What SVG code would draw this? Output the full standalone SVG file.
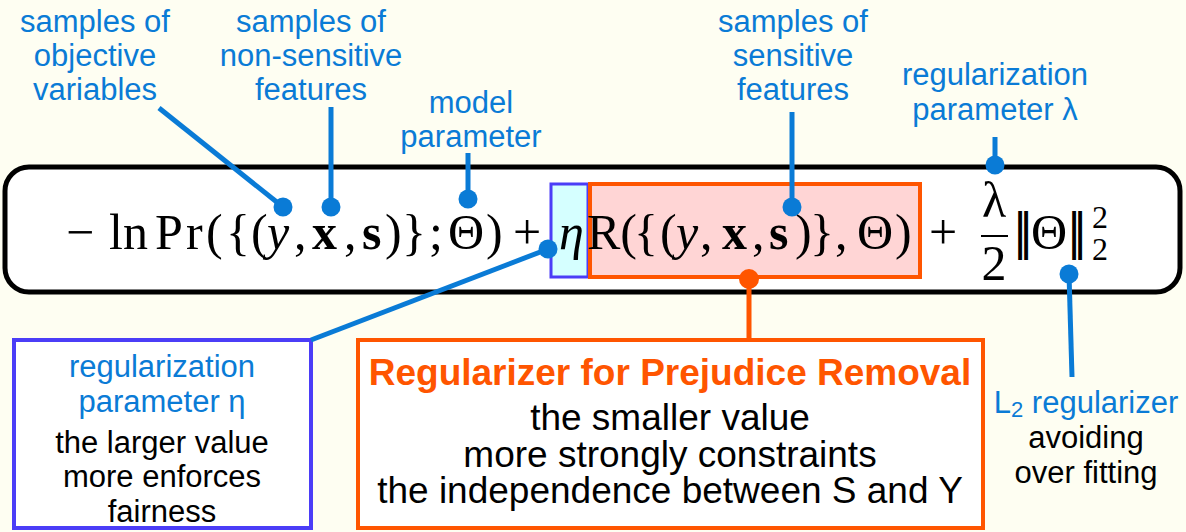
<svg xmlns="http://www.w3.org/2000/svg" width="1186" height="532" viewBox="0 0 1186 532">
<style>
.lbl{font-family:"Liberation Sans",Arial,sans-serif;font-size:31px;fill:#0a7bd6;text-anchor:middle}
.blk{font-family:"Liberation Sans",Arial,sans-serif;font-size:31px;fill:#000;text-anchor:middle}
.big{font-family:"Liberation Sans",Arial,sans-serif;font-size:37px;fill:#000;text-anchor:middle}
.ttl{font-family:"Liberation Sans",Arial,sans-serif;font-size:37px;font-weight:bold;fill:#ff5500;text-anchor:middle}
.m{font-family:"Liberation Serif","DejaVu Serif",serif;font-size:50px;fill:#000}
.bar{font-family:"DejaVu Serif",serif;font-size:48px;fill:#000}
.it{font-style:italic}
.bf{font-weight:bold}
.sm{font-size:32px}
.con{stroke:#0a7bd6;stroke-width:5;fill:none}
.dot{fill:#0a7bd6}
</style>
<rect x="0" y="0" width="1186" height="532" fill="#fefef2"/>
<g id="formula">
<rect x="5" y="167" width="1175" height="125" rx="24" fill="#fff" stroke="#000" stroke-width="5"/>
<rect id="eta-box" x="551" y="184" width="37" height="93" fill="#d5ffff" stroke="#4b3df7" stroke-width="3"/>
<rect id="r-box" x="590" y="184" width="330" height="93" fill="#ffd5d5" stroke="#ff5500" stroke-width="4"/>
<text class="m" y="249"><tspan x="66">−</tspan><tspan x="109">ln</tspan><tspan x="155">P</tspan><tspan x="186">r</tspan><tspan x="206">(</tspan><tspan x="226">{</tspan><tspan x="251">(</tspan><tspan x="267" class="it">y</tspan><tspan x="294">,</tspan><tspan x="312" class="bf">x</tspan><tspan x="344">,</tspan><tspan x="362" class="bf">s</tspan><tspan x="385">)</tspan><tspan x="402">}</tspan><tspan x="429">;</tspan><tspan x="448">Θ</tspan><tspan x="486">)</tspan><tspan x="513">+</tspan><tspan x="559" class="it">η</tspan></text>
<text class="m" y="249"><tspan x="587">R(</tspan><tspan x="634">{</tspan><tspan x="660">(</tspan><tspan x="676" class="it">y</tspan><tspan x="700">,</tspan><tspan x="722" class="bf">x</tspan><tspan x="752">,</tspan><tspan x="769" class="bf">s</tspan><tspan x="795">)</tspan><tspan x="810">}</tspan><tspan x="835">,</tspan><tspan x="857">Θ</tspan><tspan x="895">)</tspan><tspan x="929">+</tspan><tspan x="1031">Θ</tspan></text>
<text class="bar" y="249"><tspan x="1012">|</tspan><tspan x="1018">|</tspan><tspan x="1066">|</tspan><tspan x="1072">|</tspan></text>
<text class="m" x="994" y="217" text-anchor="middle">λ</text>
<line x1="981" y1="236" x2="1008" y2="236" stroke="#000" stroke-width="2"/>
<text class="m" x="994" y="280" text-anchor="middle">2</text>
<text class="m sm" x="1092" y="228">2</text>
<text class="m sm" x="1092" y="260">2</text>
</g>
<g id="label-objective"><text class="lbl"><tspan x="95" y="32">samples of</tspan><tspan x="95" y="66">objective</tspan><tspan x="95" y="100">variables</tspan></text></g>
<g id="label-nonsensitive"><text class="lbl"><tspan x="311" y="32">samples of</tspan><tspan x="311" y="66">non-sensitive</tspan><tspan x="311" y="100">features</tspan></text></g>
<g id="label-model"><text class="lbl"><tspan x="471" y="113">model</tspan><tspan x="471" y="147">parameter</tspan></text></g>
<g id="label-sensitive"><text class="lbl"><tspan x="793" y="32">samples of</tspan><tspan x="793" y="66">sensitive</tspan><tspan x="793" y="100">features</tspan></text></g>
<g id="label-lambda"><text class="lbl"><tspan x="995" y="85">regularization</tspan><tspan x="995" y="120">parameter λ</tspan></text></g>
<g id="box-eta">
<rect x="14" y="340" width="297" height="188" fill="#fff" stroke="#4b3df7" stroke-width="4"/>
<text class="lbl"><tspan x="162" y="377">regularization</tspan><tspan x="162" y="412">parameter η</tspan></text>
<text class="blk"><tspan x="162" y="453">the larger value</tspan><tspan x="162" y="487">more enforces</tspan><tspan x="162" y="522">fairness</tspan></text>
</g>
<g id="box-regularizer">
<rect x="358" y="340" width="625" height="188" fill="#fff" stroke="#ff5500" stroke-width="4"/>
<text class="ttl" x="670" y="385">Regularizer for Prejudice Removal</text>
<text class="big"><tspan x="670" y="430">the smaller value</tspan><tspan x="670" y="467">more strongly constraints</tspan><tspan x="670" y="503">the independence between S and Y</tspan></text>
</g>
<g id="label-l2">
<text class="lbl" x="1086" y="413">L<tspan font-size="22" dy="4">2</tspan><tspan dy="-4"> regularizer</tspan></text>
<text class="blk"><tspan x="1086" y="448">avoiding</tspan><tspan x="1086" y="483">over fitting</tspan></text>
</g>
<g id="connectors">
<line class="con" x1="159" y1="108" x2="283" y2="207"/>
<circle class="dot" cx="283" cy="207" r="9.5"/>
<line class="con" x1="331" y1="107" x2="331" y2="207"/>
<circle class="dot" cx="331" cy="207" r="9.5"/>
<line class="con" x1="468" y1="153" x2="468" y2="199"/>
<circle class="dot" cx="468" cy="199" r="9.5"/>
<line class="con" x1="792" y1="112" x2="792" y2="207"/>
<circle class="dot" cx="792" cy="207" r="9.5"/>
<line class="con" x1="995" y1="137" x2="995" y2="165"/>
<circle class="dot" cx="995" cy="165" r="9.5"/>
<line class="con" x1="548" y1="249" x2="311" y2="340"/>
<circle class="dot" cx="548" cy="249" r="9.5"/>
<line class="con" x1="1069" y1="274" x2="1072" y2="377"/>
<circle class="dot" cx="1069" cy="274" r="9.5"/>
<line x1="749" y1="279" x2="749" y2="340" stroke="#ff5500" stroke-width="5"/>
<circle cx="749" cy="279" r="10" fill="#ff5500"/>
</g>
</svg>
